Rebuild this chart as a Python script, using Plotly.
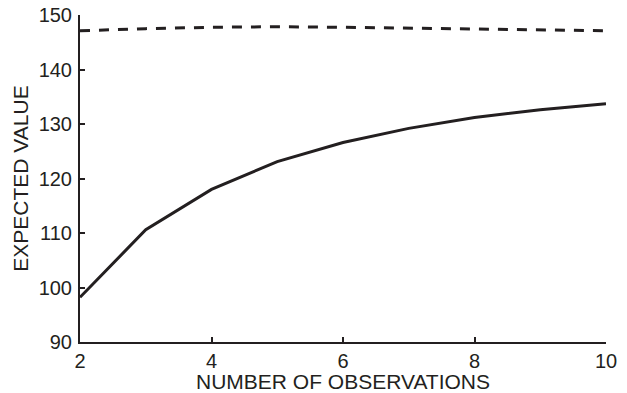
import plotly.graph_objects as go

# Number of observations on the horizontal axis
observations = [2, 3, 4, 5, 6, 7, 8, 9, 10]

# Expected value curves
expected_solid = [98.2, 110.6, 118.0, 123.1, 126.6, 129.2, 131.2, 132.6, 133.7]
expected_dashed = [147.1, 147.5, 147.75, 147.85, 147.75, 147.6, 147.45, 147.3, 147.1]

x_ticks = [2, 4, 6, 8, 10]
y_ticks = [90, 100, 110, 120, 130, 140, 150]

ink = "#231f20"
font_family = "Liberation Sans, Arial, Helvetica, sans-serif"

fig = go.Figure()
fig.add_trace(go.Scatter(
    x=observations, y=expected_dashed, mode="lines",
    line=dict(color=ink, width=3, dash="10px,9px"),
    showlegend=False, hoverinfo="skip",
))
fig.add_trace(go.Scatter(
    x=observations, y=expected_solid, mode="lines",
    line=dict(color=ink, width=3),
    showlegend=False, hoverinfo="skip",
))

axis_common = dict(
    showgrid=False, zeroline=False,
    showline=True, linecolor=ink, linewidth=2,
    ticks="inside", ticklen=5, tickwidth=2, tickcolor=ink,
    tickfont=dict(family=font_family, size=20, color=ink),
    mirror=False, automargin=False,
)

fig.update_layout(
    width=627, height=393,
    margin=dict(l=80, r=21, t=15, b=51),
    paper_bgcolor="white", plot_bgcolor="white",
    font=dict(family=font_family, color=ink),
    xaxis=dict(
        range=[2, 10], tickvals=x_ticks, ticktext=[str(v) for v in x_ticks],
        title=dict(text="NUMBER OF OBSERVATIONS", standoff=0,
                   font=dict(family=font_family, size=21, color=ink)),
        ticklabelstandoff=0,
        **axis_common,
    ),
    yaxis=dict(
        range=[90, 150], tickvals=y_ticks, ticktext=[str(v) for v in y_ticks],
        title=dict(text="EXPECTED VALUE", standoff=4,
                   font=dict(family=font_family, size=21, color=ink)),
        ticklabelstandoff=2,
        **axis_common,
    ),
)

fig.write_html("out.html")
